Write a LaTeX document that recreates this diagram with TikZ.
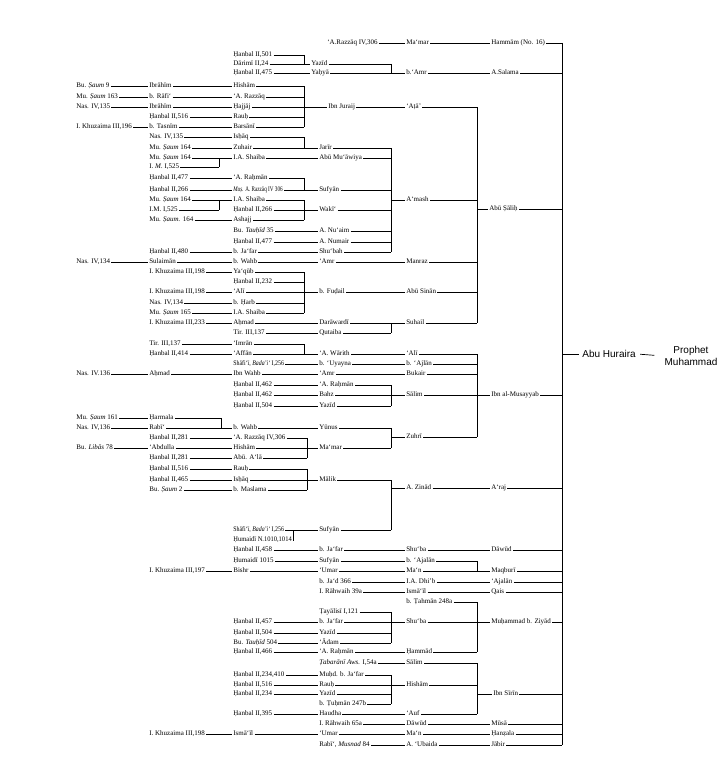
\documentclass[tikz,border=0pt]{standalone}
\usepackage{fontspec}
\setmainfont{Liberation Serif}
\newfontfamily\arialf{Liberation Sans}
\newcommand\lk[2]{\draw (#1.east) -- (#2.west);}
\newcommand\tob[2]{\draw (#1.east) -- (#1.east -| #2);}
\newcommand\fromb[2]{\draw (#2.west -| #1) -- (#2.west);}
\newcommand\vbr[3]{\draw (#2.east -| #1) -- (#3.east -| #1);}
\newcommand\cnd[2]{\scalebox{#1}[1]{#2}}
\begin{document}
\begin{tikzpicture}[x=1pt,y=-1pt,line width=0.7pt,
  t/.style={anchor=west,inner xsep=1pt,inner ysep=0pt,text height=5pt,text depth=1.5pt,font=\fontsize{7}{8}\selectfont},
  big/.style={font=\arialf\fontsize{10}{11.5}\selectfont,inner sep=1pt}]
\useasboundingbox (0,0) rectangle (727,776);
\coordinate (X219) at (219,0);
\coordinate (X221) at (221,0);
\coordinate (X293) at (293,0);
\coordinate (X304) at (304,0);
\coordinate (X307) at (307,0);
\coordinate (X391) at (391,0);
\coordinate (X477) at (477,0);
\coordinate (X562) at (562,0);
% ---- top
\node[t] (d43) at (326,43) {‘A.Razzāq IV,306};
\node[t] (e43) at (405,43) {Ma‘mar};
\node[t] (f43) at (490,43) {Hammām (No. 16)};
\lk{d43}{e43}\lk{e43}{f43}\tob{f43}{X562}
\node[t] (c55) at (232,55) {Ḥanbal II,501};
\node[t] (c64) at (232,64) {Dārimī II,24};
\node[t] (d64) at (310,64) {Yazīd};
\node[t] (c73) at (232,73) {Ḥanbal II,475};
\node[t] (d73) at (310,73) {Yaḥyā};
\node[t] (e73) at (405,73) {b.‘Amr};
\node[t] (f73) at (490,73) {A.Salama};
\tob{c55}{X304}\vbr{X304}{c55}{c64}\lk{c64}{d64}\lk{c73}{d73}
\tob{d64}{X391}\vbr{X391}{d64}{d73}\lk{d73}{e73}\lk{e73}{f73}\tob{f73}{X562}
% ---- Ibn Juraij group
\node[t] (a86) at (75,86) {Bu. \textit{Ṣaum} 9};
\node[t] (b86) at (148,86) {Ibrāhīm};
\node[t] (c86) at (232,86) {Hishām};
\node[t] (a97) at (75,97) {Mu. \textit{Ṣaum} 163};
\node[t] (b97) at (148,97) {b. Rāfi‘};
\node[t] (c97) at (232,97) {‘A. Razzāq};
\node[t] (a107) at (75,107) {Nas. IV,135};
\node[t] (b107) at (148,107) {Ibrāhīm};
\node[t] (c107) at (232,107) {Ḥajjāj};
\node[t] (d107) at (327,107) {Ibn Juraij};
\node[t] (e107) at (405,107) {‘Aṭā’};
\node[t] (b117) at (148,117) {Ḥanbal II,516};
\node[t] (c117) at (232,117) {Rauḥ};
\node[t] (a127) at (75,127) {I. Khuzaima III,196};
\node[t] (b127) at (148,127) {b. Tasnīm};
\node[t] (c127) at (232,127) {Barsānī};
\lk{a86}{b86}\lk{b86}{c86}\lk{a97}{b97}\lk{b97}{c97}\lk{a107}{b107}\lk{b107}{c107}
\lk{b117}{c117}\lk{a127}{b127}\lk{b127}{c127}
\tob{c86}{X304}\tob{c97}{X304}\tob{c117}{X304}\tob{c127}{X304}\vbr{X304}{c86}{c127}
\lk{c107}{d107}\lk{d107}{e107}\tob{e107}{X477}
% ---- A'mash group
\node[t] (b137) at (148,137) {Nas. IV,135};
\node[t] (c137) at (232,137) {Isḥāq};
\node[t] (b148) at (148,148) {Mu. \textit{Ṣaum} 164};
\node[t] (c148) at (232,148) {Zuhair};
\node[t] (d148) at (318,148) {Jarīr};
\node[t] (b158) at (148,158) {Mu. \textit{Ṣaum} 164};
\node[t] (c158) at (232,158) {I.A. Shaiba};
\node[t] (d158) at (318,158) {Abū Mu‘āwiya};
\node[t] (b167) at (148,167) {I. \textit{M.} I,525};
\node[t] (b178) at (148,178) {Ḥanbal II,477};
\node[t] (c178) at (232,178) {‘A. Raḥmān};
\node[t] (b190) at (148,190) {Ḥanbal II,266};
\node[t] (c190) at (232,190) {\cnd{0.74}{\textit{Muṣ.} A. Razzāq IV 306}};
\node[t] (d190) at (318,190) {Sufyān};
\node[t] (b200) at (148,200) {Mu. \textit{Ṣaum} 164};
\node[t] (c200) at (232,200) {I.A. Shaiba};
\node[t] (e200) at (405,200) {A‘mash};
\node[t] (b210) at (148,210) {I.M. I,525};
\node[t] (c210) at (232,210) {Ḥanbal II,266};
\node[t] (d210) at (318,210) {Wakī‘};
\node[t] (b220) at (148,220) {Mu. \textit{Ṣaum.} 164};
\node[t] (c220) at (232,220) {Ashajj};
\node[t] (c231) at (232,231) {Bu. \textit{Tauḥīd} 35};
\node[t] (d231) at (318,231) {A. Nu‘aim};
\node[t] (c242) at (232,242) {Ḥanbal II,477};
\node[t] (d242) at (318,242) {A. Numair};
\node[t] (b252) at (148,252) {Ḥanbal II,480};
\node[t] (c252) at (232,252) {b. Ja‘far};
\node[t] (d252) at (318,252) {Shu‘bah};
\node[t] (a262) at (75,262) {Nas. IV,134};
\node[t] (b262) at (148,262) {Sulaimān};
\node[t] (c262) at (232,262) {b. Wahb};
\node[t] (d262) at (318,262) {‘Amr};
\node[t] (e262) at (405,262) {Manraz};
\lk{b137}{c137}\tob{c137}{X304}\lk{b148}{c148}\lk{c148}{d148}\vbr{X304}{c137}{c148}
\lk{b158}{c158}\lk{c158}{d158}\tob{b167}{X219}\vbr{X219}{b158}{b167}
\lk{b178}{c178}\tob{c178}{X304}\lk{b190}{c190}\lk{c190}{d190}\vbr{X304}{c178}{c190}
\lk{b200}{c200}\tob{b210}{X219}\vbr{X219}{b200}{b210}
\tob{c200}{X304}\lk{c210}{d210}\lk{b220}{c220}\tob{c220}{X304}\vbr{X304}{c200}{c220}
\lk{c231}{d231}\lk{c242}{d242}\lk{b252}{c252}\lk{c252}{d252}
\tob{d148}{X391}\tob{d158}{X391}\tob{d190}{X391}\tob{d210}{X391}\tob{d231}{X391}\tob{d242}{X391}\tob{d252}{X391}
\vbr{X391}{d148}{d252}\fromb{X391}{e200}\tob{e200}{X477}
\lk{a262}{b262}\lk{b262}{c262}\lk{c262}{d262}\lk{d262}{e262}\tob{e262}{X477}
% ---- Abu Sinan / Suhail
\node[t] (b272) at (148,272) {I. Khuzaima III,198};
\node[t] (c272) at (232,272) {Ya‘qūb};
\node[t] (c282) at (232,282) {Ḥanbal II,232};
\node[t] (b292) at (148,292) {I. Khuzaima III,198};
\node[t] (c292) at (232,292) {‘Alī};
\node[t] (d292) at (318,292) {b. Fuḍail};
\node[t] (e292) at (405,292) {Abū Sinān};
\node[t] (b303) at (148,303) {Nas. IV,134};
\node[t] (c303) at (232,303) {b. Ḥarb};
\node[t] (b313) at (148,313) {Mu. \textit{Ṣaum} 165};
\node[t] (c313) at (232,313) {I.A. Shaiba};
\node[t] (b323) at (148,323) {I. Khuzaima III,233};
\node[t] (c323) at (232,323) {Aḥmad};
\node[t] (d323) at (318,323) {Darāwardī};
\node[t] (e323) at (405,323) {Suhail};
\node[t] (c333) at (232,333) {Tir. III,137};
\node[t] (d333) at (318,333) {Qutaiba};
\node[t] (f209) at (488,209) {Abū Ṣāliḥ};
\lk{b272}{c272}\lk{b292}{c292}\lk{b303}{c303}\lk{b313}{c313}
\tob{c272}{X304}\tob{c282}{X304}\tob{c303}{X304}\tob{c313}{X304}\vbr{X304}{c272}{c313}
\lk{c292}{d292}\lk{d292}{e292}\tob{e292}{X477}
\lk{b323}{c323}\lk{c323}{d323}\lk{d323}{e323}\lk{c333}{d333}\tob{d333}{X391}\vbr{X391}{d323}{d333}
\tob{e323}{X477}\vbr{X477}{e107}{e323}\fromb{X477}{f209}\tob{f209}{X562}
% ---- Ibn al-Musayyab
\node[t] (b344) at (148,344) {Tir. III,137};
\node[t] (c344) at (232,344) {‘Imrān};
\node[t] (b354) at (148,354) {Ḥanbal II,414};
\node[t] (c354) at (232,354) {‘Affān};
\node[t] (d354) at (318,354) {‘A. Wārith};
\node[t] (e354) at (405,354) {‘Alī};
\node[t] (c364) at (232,364) {\cnd{0.84}{Shāfi‘ī, \textit{Bada’i‘} I,256}};
\node[t] (d364) at (318,364) {b. ‘Uyayna};
\node[t] (e364) at (405,364) {b. ‘Ajlān};
\node[t] (a374) at (75,374) {Nas. IV.136};
\node[t] (b374) at (148,374) {Aḥmad};
\node[t] (c374) at (232,374) {Ibn Wahb};
\node[t] (d374) at (318,374) {‘Amr};
\node[t] (e374) at (405,374) {Bukair};
\node[t] (c385) at (232,385) {Ḥanbal II,462};
\node[t] (d385) at (318,385) {‘A. Raḥmān};
\node[t] (c395) at (232,395) {Ḥanbal II,462};
\node[t] (d395) at (318,395) {Bahz};
\node[t] (e395) at (405,395) {Sālim};
\node[t] (f395) at (490,395) {Ibn al-Musayyab};
\node[t] (c406) at (232,406) {Ḥanbal II,504};
\node[t] (d406) at (318,406) {Yazīd};
\lk{b344}{c344}\tob{c344}{X304}\lk{b354}{c354}\lk{c354}{d354}\vbr{X304}{c344}{c354}\lk{d354}{e354}
\lk{c364}{d364}\lk{d364}{e364}
\lk{a374}{b374}\lk{b374}{c374}\lk{c374}{d374}\lk{d374}{e374}
\lk{c385}{d385}\lk{c395}{d395}\lk{c406}{d406}
\tob{d385}{X391}\tob{d406}{X391}\vbr{X391}{d385}{d406}\lk{d395}{e395}\lk{e395}{f395}\tob{f395}{X562}
\tob{e354}{X477}\tob{e364}{X477}\tob{e374}{X477}
% ---- Zuhri / A. Zinad
\node[t] (a418) at (75,418) {Mu. \textit{Ṣaum} 161};
\node[t] (b418) at (148,418) {Ḥarmala};
\node[t] (a428) at (75,428) {Nas. IV,136};
\node[t] (b428) at (148,428) {Rabī‘};
\node[t] (c428) at (232,428) {b. Wahb};
\node[t] (d428) at (318,428) {Yūnus};
\node[t] (e437) at (405,437) {Zuhrī};
\node[t] (b438) at (148,438) {Ḥanbal II,281};
\node[t] (c438) at (232,438) {‘A. Razzāq IV,306};
\node[t] (a448) at (75,448) {Bu. \textit{Libās} 78};
\node[t] (b448) at (148,448) {‘Abdulla};
\node[t] (c448) at (232,448) {Hishām};
\node[t] (d448) at (318,448) {Ma‘mar};
\node[t] (b458) at (148,458) {Ḥanbal II,281};
\node[t] (c458) at (232,458) {Abū. A‘lā};
\node[t] (b469) at (148,469) {Ḥanbal II,516};
\node[t] (c469) at (232,469) {Rauḥ};
\node[t] (b480) at (148,480) {Ḥanbal II,465};
\node[t] (c480) at (232,480) {Isḥāq};
\node[t] (d480) at (318,480) {Mālik};
\node[t] (e488) at (405,488) {A. Zinād};
\node[t] (f488) at (490,488) {A‘raj};
\node[t] (b490) at (148,490) {Bu. \textit{Ṣaum} 2};
\node[t] (c490) at (232,490) {b. Maslama};
\node[t] (c530) at (232,530) {\cnd{0.84}{Shāfi‘ī, \textit{Bada’i‘} I,256}};
\node[t] (d530) at (318,530) {Sufyān};
\node[t] (c540) at (232,540) {\cnd{0.93}{Ḥumaidī N.1010,1014}};
\lk{a418}{b418}\tob{b418}{X221}\lk{a428}{b428}\lk{b428}{c428}\vbr{X221}{b418}{b428}\lk{c428}{d428}\tob{d428}{X391}
\lk{b438}{c438}\tob{c438}{X307}\lk{a448}{b448}\lk{b448}{c448}\lk{c448}{d448}\lk{b458}{c458}\tob{c458}{X307}\vbr{X307}{c438}{c458}
\tob{d448}{X391}\vbr{X391}{d428}{d448}\fromb{X391}{e437}\tob{e437}{X477}\vbr{X477}{e354}{e437}
\lk{b469}{c469}\tob{c469}{X307}\lk{b480}{c480}\lk{c480}{d480}\lk{b490}{c490}\tob{c490}{X307}\vbr{X307}{c469}{c490}
\tob{d480}{X391}\lk{c530}{d530}\tob{c540}{X293}\vbr{X293}{c530}{c540}\tob{d530}{X391}\vbr{X391}{d480}{d530}
\fromb{X391}{e488}\lk{e488}{f488}\tob{f488}{X562}
% ---- lower groups
\node[t] (c550) at (232,550) {Ḥanbal II,458};
\node[t] (d550) at (318,550) {b. Ja‘far};
\node[t] (e550) at (405,550) {Shu‘ba};
\node[t] (f550) at (490,550) {Dāwūd};
\node[t] (c561) at (232,561) {Ḥumaidī 1015};
\node[t] (d561) at (318,561) {Sufyān};
\node[t] (e561) at (405,561) {b. ‘Ajalān};
\node[t] (b571) at (148,571) {I. Khuzaima III,197};
\node[t] (c571) at (232,571) {Bishr};
\node[t] (d571) at (318,571) {‘Umar};
\node[t] (e571) at (405,571) {Ma‘n};
\node[t] (f571) at (490,571) {Maqburī};
\node[t] (d582) at (318,582) {b. Ja‘d 366};
\node[t] (e582) at (405,582) {I.A. Dhi’b};
\node[t] (f582) at (490,582) {‘Ajalān};
\node[t] (d592) at (318,592) {I. Rāhwaih 39a};
\node[t] (e592) at (405,592) {Ismā‘īl};
\node[t] (f592) at (490,592) {Qais};
\lk{c550}{d550}\lk{d550}{e550}\lk{e550}{f550}\tob{f550}{X562}
\lk{c561}{d561}\lk{d561}{e561}\tob{e561}{X477}\vbr{X477}{e561}{e571}
\lk{b571}{c571}\lk{c571}{d571}\lk{d571}{e571}\lk{e571}{f571}\tob{f571}{X562}
\lk{d582}{e582}\lk{e582}{f582}\tob{f582}{X562}
\lk{d592}{e592}\lk{e592}{f592}\tob{f592}{X562}
\node[t] (e602) at (405,602) {b. Ṭahmān 248a};
\node[t] (d612) at (318,612) {Ṭayālisī I,121};
\node[t] (c622) at (232,622) {Ḥanbal II,457};
\node[t] (d622) at (318,622) {b. Ja‘far};
\node[t] (e622) at (405,622) {Shu‘ba};
\node[t] (f622) at (490,622) {Muḥammad b. Ziyād};
\node[t] (c633) at (232,633) {Ḥanbal II,504};
\node[t] (d633) at (318,633) {Yazīd};
\node[t] (c643) at (232,643) {Bu. \textit{Tauḥīd} 504};
\node[t] (d643) at (318,643) {‘Ādam};
\node[t] (c652) at (232,652) {Ḥanbal II,466};
\node[t] (d652) at (318,652) {‘A. Raḥmān};
\node[t] (e652) at (405,652) {Ḥammād};
\tob{e602}{X477}\tob{d612}{X391}\lk{c622}{d622}\lk{d622}{e622}\lk{e622}{f622}\tob{f622}{X562}
\lk{c633}{d633}\tob{d633}{X391}\lk{c643}{d643}\tob{d643}{X391}\vbr{X391}{d612}{d643}
\lk{c652}{d652}\lk{d652}{e652}\tob{e652}{X477}\vbr{X477}{e602}{e652}
\node[t] (d663) at (318,663) {\textit{Ṭabarānī Aws.} I,54a};
\node[t] (e663) at (405,663) {Sālim};
\node[t] (c675) at (232,675) {Ḥanbal II,234,410};
\node[t] (d675) at (318,675) {Muḥd. b. Ja‘far};
\node[t] (c685) at (232,685) {Ḥanbal II,516};
\node[t] (d685) at (318,685) {Rauḥ};
\node[t] (e685) at (405,685) {Hishām};
\node[t] (c694) at (232,694) {Ḥanbal II,234};
\node[t] (d694) at (318,694) {Yazīd};
\node[t] (f694) at (492,694) {Ibn Sīrīn};
\node[t] (d704) at (318,704) {b. Ṭuḥmān 247b};
\node[t] (c714) at (232,714) {Ḥanbal II,395};
\node[t] (d714) at (318,714) {Haudha};
\node[t] (e714) at (405,714) {‘Auf};
\lk{d663}{e663}\tob{e663}{X477}
\lk{c675}{d675}\tob{d675}{X391}\lk{c685}{d685}\lk{d685}{e685}\lk{c694}{d694}\tob{d694}{X391}\tob{d704}{X391}\vbr{X391}{d675}{d704}
\tob{e685}{X477}\lk{c714}{d714}\lk{d714}{e714}\tob{e714}{X477}\vbr{X477}{e663}{e714}
\fromb{X477}{f694}\tob{f694}{X562}
\node[t] (d724) at (318,724) {I. Rāhwaih 65a};
\node[t] (e724) at (405,724) {Dāwūd};
\node[t] (f724) at (490,724) {Mūsā};
\node[t] (b734) at (148,734) {I. Khuzaima III,198};
\node[t] (c734) at (232,734) {Ismā‘īl};
\node[t] (d734) at (318,734) {‘Umar};
\node[t] (e734) at (405,734) {Ma‘n};
\node[t] (f734) at (490,734) {Ḥanẓala};
\node[t] (d745) at (318,745) {Rabī‘, \textit{Musnad} 84};
\node[t] (e745) at (405,745) {A. ‘Ubaida};
\node[t] (f745) at (490,745) {Jābir};
\lk{d724}{e724}\lk{e724}{f724}\tob{f724}{X562}
\lk{b734}{c734}\lk{c734}{d734}\lk{d734}{e734}\lk{e734}{f734}\tob{f734}{X562}
\lk{d745}{e745}\lk{e745}{f745}\tob{f745}{X562}
\vbr{X562}{f43}{f745}
% ---- right end
\node[big,anchor=west] (ah) at (581,354) {Abu Huraira};
\node[big,align=center] (pm) at (691,356) {Prophet\\Muhammad};
\draw[shorten >=2pt] (ah.west -| X562) -- (ah.west);
\draw[shorten <=3pt,shorten >=9pt] (ah.east) -- (pm.west);
\end{tikzpicture}
\end{document}
